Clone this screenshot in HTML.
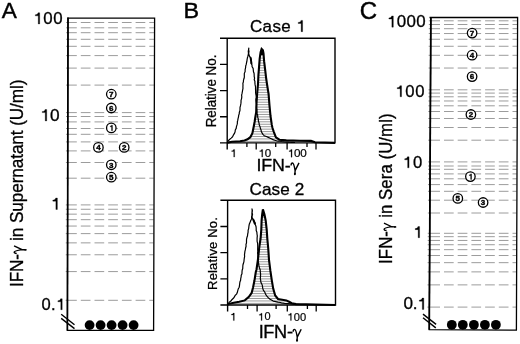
<!DOCTYPE html>
<html><head><meta charset="utf-8"><style>
html,body{margin:0;padding:0;background:#fff;width:520px;height:344px;overflow:hidden}
svg{display:block;will-change:transform;filter:blur(0.3px)}
text{font-family:"Liberation Sans", sans-serif;fill:#000;font-kerning:none}
</style></head><body>
<svg width="520" height="344" viewBox="0 0 520 344"><path d="M68.59 22.50H76.80M80.80 22.50H90.50M94.50 22.50H104.20M108.20 22.50H117.90M121.90 22.50H131.60M135.60 22.50H145.30M149.30 22.50H154.28M68.58 27.80H76.80M80.80 27.80H90.50M94.50 27.80H104.20M108.20 27.80H117.90M121.90 27.80H131.60M135.60 27.80H145.30M149.30 27.80H154.27M68.57 32.70H76.80M80.80 32.70H90.50M94.50 32.70H104.20M108.20 32.70H117.90M121.90 32.70H131.60M135.60 32.70H145.30M149.30 32.70H154.25M68.56 39.30H76.80M80.80 39.30H90.50M94.50 39.30H104.20M108.20 39.30H117.90M121.90 39.30H131.60M135.60 39.30H145.30M149.30 39.30H154.23M68.54 46.30H76.80M80.80 46.30H90.50M94.50 46.30H104.20M108.20 46.30H117.90M121.90 46.30H131.60M135.60 46.30H145.30M149.30 46.30H154.21M68.53 55.60H76.80M80.80 55.60H90.50M94.50 55.60H104.20M108.20 55.60H117.90M121.90 55.60H131.60M135.60 55.60H145.30M149.30 55.60H154.18M68.50 68.10H76.80M80.80 68.10H90.50M94.50 68.10H104.20M108.20 68.10H117.90M121.90 68.10H131.60M135.60 68.10H145.30M149.30 68.10H154.14M68.47 85.10H76.80M80.80 85.10H90.50M94.50 85.10H104.20M108.20 85.10H117.90M121.90 85.10H131.60M135.60 85.10H145.30M149.30 85.10H154.08M68.42 112.60H76.80M80.80 112.60H90.50M94.50 112.60H104.20M108.20 112.60H117.90M121.90 112.60H131.60M135.60 112.60H145.30M149.30 112.60H154.00M68.41 116.50H76.80M80.80 116.50H90.50M94.50 116.50H104.20M108.20 116.50H117.90M121.90 116.50H131.60M135.60 116.50H145.30M149.30 116.50H153.98M68.40 121.90H76.80M80.80 121.90H90.50M94.50 121.90H104.20M108.20 121.90H117.90M121.90 121.90H131.60M135.60 121.90H145.30M149.30 121.90H153.97M68.39 128.50H76.80M80.80 128.50H90.50M94.50 128.50H104.20M108.20 128.50H117.90M121.90 128.50H131.60M135.60 128.50H145.30M149.30 128.50H153.95M68.38 134.30H76.80M80.80 134.30H90.50M94.50 134.30H104.20M108.20 134.30H117.90M121.90 134.30H131.60M135.60 134.30H145.30M149.30 134.30H153.93M68.36 141.90H76.80M80.80 141.90H90.50M94.50 141.90H104.20M108.20 141.90H117.90M121.90 141.90H131.60M135.60 141.90H145.30M149.30 141.90H153.90M68.34 150.90H76.80M80.80 150.90H90.50M94.50 150.90H104.20M108.20 150.90H117.90M121.90 150.90H131.60M135.60 150.90H145.30M149.30 150.90H153.87M68.32 162.50H76.80M80.80 162.50H90.50M94.50 162.50H104.20M108.20 162.50H117.90M121.90 162.50H131.60M135.60 162.50H145.30M149.30 162.50H153.84M68.29 178.20H76.80M80.80 178.20H90.50M94.50 178.20H104.20M108.20 178.20H117.90M121.90 178.20H131.60M135.60 178.20H145.30M149.30 178.20H153.79M68.24 204.90H76.80M80.80 204.90H90.50M94.50 204.90H104.20M108.20 204.90H117.90M121.90 204.90H131.60M135.60 204.90H145.30M149.30 204.90H153.70M68.23 209.27H76.80M80.80 209.27H90.50M94.50 209.27H104.20M108.20 209.27H117.90M121.90 209.27H131.60M135.60 209.27H145.30M149.30 209.27H153.69M68.22 214.15H76.80M80.80 214.15H90.50M94.50 214.15H104.20M108.20 214.15H117.90M121.90 214.15H131.60M135.60 214.15H145.30M149.30 214.15H153.67M68.21 219.68H76.80M80.80 219.68H90.50M94.50 219.68H104.20M108.20 219.68H117.90M121.90 219.68H131.60M135.60 219.68H145.30M149.30 219.68H153.65M68.20 226.06H76.80M80.80 226.06H90.50M94.50 226.06H104.20M108.20 226.06H117.90M121.90 226.06H131.60M135.60 226.06H145.30M149.30 226.06H153.63M68.19 233.62H76.80M80.80 233.62H90.50M94.50 233.62H104.20M108.20 233.62H117.90M121.90 233.62H131.60M135.60 233.62H145.30M149.30 233.62H153.61M68.17 242.86H76.80M80.80 242.86H90.50M94.50 242.86H104.20M108.20 242.86H117.90M121.90 242.86H131.60M135.60 242.86H145.30M149.30 242.86H153.58M68.15 254.78H76.80M80.80 254.78H90.50M94.50 254.78H104.20M108.20 254.78H117.90M121.90 254.78H131.60M135.60 254.78H145.30M149.30 254.78H153.54M68.11 271.58H76.80M80.80 271.58H90.50M94.50 271.58H104.20M108.20 271.58H117.90M121.90 271.58H131.60M135.60 271.58H145.30M149.30 271.58H153.49M68.06 300.30H76.80M80.80 300.30H90.50M94.50 300.30H104.20M108.20 300.30H117.90M121.90 300.30H131.60M135.60 300.30H145.30M149.30 300.30H153.40" stroke="#9c9c9c" stroke-width="1" fill="none"/><path d="M66.19 22.50H68.99M66.18 27.80H68.98M66.17 32.70H68.97M66.16 39.30H68.96M66.14 46.30H68.94M66.13 55.60H68.93M66.10 68.10H68.90M66.07 85.10H68.87M66.02 112.60H68.82M66.01 116.50H68.81M66.00 121.90H68.80M65.99 128.50H68.79M65.98 134.30H68.78M65.96 141.90H68.76M65.94 150.90H68.74M65.92 162.50H68.72M65.89 178.20H68.69M65.84 204.90H68.64M65.83 209.27H68.63M65.82 214.15H68.62M65.81 219.68H68.61M65.80 226.06H68.60M65.79 233.62H68.59M65.77 242.86H68.57M65.75 254.78H68.55M65.71 271.58H68.51M65.66 300.30H68.46" stroke="#777" stroke-width="0.8" fill="none"/><path d="M68 17.6L67.4 330.4H153.6L154.6 18.2H67.2" stroke="#000" stroke-width="1.3" fill="none" stroke-linejoin="miter"/><path d="M68.0 17.6L67.4 330.4" stroke="#000" stroke-width="1.6" fill="none"/><path d="M61.2 314.3L74.5 324.7M61.2 318.4L74.5 328.6" stroke="#000" stroke-width="1.4" fill="none"/><circle cx="89.6" cy="325.1" r="4.9" fill="#000"/><circle cx="100.6" cy="325.1" r="4.9" fill="#000"/><circle cx="111.6" cy="325.1" r="4.9" fill="#000"/><circle cx="122.6" cy="325.1" r="4.9" fill="#000"/><circle cx="133.6" cy="325.1" r="4.9" fill="#000"/><circle cx="111.3" cy="94.2" r="4.75" fill="#fff" stroke="#000" stroke-width="1.3"/><text x="111.3" y="97.00" font-size="8.0" font-weight="bold" stroke="#000" stroke-width="0.4" text-anchor="middle">7</text><circle cx="111.3" cy="108" r="4.75" fill="#fff" stroke="#000" stroke-width="1.3"/><text x="111.3" y="110.80" font-size="8.0" font-weight="bold" stroke="#000" stroke-width="0.4" text-anchor="middle">6</text><circle cx="111.3" cy="127.9" r="4.75" fill="#fff" stroke="#000" stroke-width="1.3"/><path d="M112.34 130.70H111.66V126.70H110.26V126.18C110.98 126.16 111.48 125.86 111.56 125.20H112.34Z" stroke="#000" stroke-width="0.5"/><circle cx="98.4" cy="147.4" r="4.75" fill="#fff" stroke="#000" stroke-width="1.3"/><text x="98.4" y="150.20" font-size="8.0" font-weight="bold" stroke="#000" stroke-width="0.4" text-anchor="middle">4</text><circle cx="124.2" cy="147.4" r="4.75" fill="#fff" stroke="#000" stroke-width="1.3"/><text x="124.2" y="150.20" font-size="8.0" font-weight="bold" stroke="#000" stroke-width="0.4" text-anchor="middle">2</text><circle cx="111.3" cy="164.8" r="4.75" fill="#fff" stroke="#000" stroke-width="1.3"/><text x="111.3" y="167.60" font-size="8.0" font-weight="bold" stroke="#000" stroke-width="0.4" text-anchor="middle">3</text><circle cx="111.3" cy="177.2" r="4.75" fill="#fff" stroke="#000" stroke-width="1.3"/><text x="111.3" y="180.00" font-size="8.0" font-weight="bold" stroke="#000" stroke-width="0.4" text-anchor="middle">5</text><g transform="translate(22.60 285.50) scale(1.04 1) rotate(-90)"><text x="-1.55" y="0.00" font-size="17.19" letter-spacing="-0.094" stroke="#000" stroke-width="0.32">IFN-  in Supernatant (U/ml)</text><path d="M32.01 -5.67C32.01 -7.39 32.70 -8.08 33.39 -8.08C34.42 -8.08 34.93 -6.19 35.88 -0.52M39.63 -8.22L35.88 -0.52L35.71 2.75" fill="none" stroke="#000" stroke-width="1.34" stroke-linejoin="round"/><ellipse cx="35.65" cy="2.84" rx="0.95" ry="1.20"/></g><g transform="matrix(1.04 0 0 1 -1.412 0)"><text x="33.53" y="23.94" font-size="16.20" letter-spacing="0.492" stroke="#000" stroke-width="0.30"> 00</text><path d="M39.53 23.94H38.15V15.84H35.30V14.79C36.77 14.74 37.78 14.14 37.94 12.79H39.53Z" stroke="#000" stroke-width="0.30"/></g><g transform="matrix(1.04 0 0 1 -1.688 0)"><text x="40.39" y="120.93" font-size="16.62" letter-spacing="0.163" stroke="#000" stroke-width="0.31"> 0</text><path d="M46.54 120.93H45.13V112.62H42.20V111.54C43.71 111.49 44.74 110.88 44.91 109.50H46.54Z" stroke="#000" stroke-width="0.31"/></g><g transform="matrix(1.04 0 0 1 0 0)"><text x="48.98" y="209.50" font-size="16.72" letter-spacing="0.000" stroke="#000" stroke-width="0.31"> </text><path d="M55.16 209.50H53.74V201.14H50.80V200.06C52.32 200.01 53.36 199.39 53.52 198.00H55.16Z" stroke="#000" stroke-width="0.31"/></g><g transform="matrix(1.04 0 0 1 -1.688 0)"><text x="41.56" y="309.74" font-size="15.92" letter-spacing="0.353" stroke="#000" stroke-width="0.30">0. </text><path d="M61.43 309.74H60.08V301.78H57.28V300.75C58.73 300.70 59.71 300.11 59.87 298.79H61.43Z" stroke="#000" stroke-width="0.30"/></g><g transform="matrix(1.04 0 0 1 0 0)"><text x="1.76" y="17.60" font-size="21.74" letter-spacing="0.000" stroke="#000" stroke-width="0.41">A</text></g><path d="M431.43 20.81H440.00M444.00 20.81H453.70M457.70 20.81H467.40M471.40 20.81H481.10M485.10 20.81H494.80M498.80 20.81H508.50M512.50 20.81H517.29M431.41 24.51H440.00M444.00 24.51H453.70M457.70 24.51H467.40M471.40 24.51H481.10M485.10 24.51H494.80M498.80 24.51H508.50M512.50 24.51H517.27M431.39 28.70H440.00M444.00 28.70H453.70M457.70 28.70H467.40M471.40 28.70H481.10M485.10 28.70H494.80M498.80 28.70H508.50M512.50 28.70H517.26M431.37 33.54H440.00M444.00 33.54H453.70M457.70 33.54H467.40M471.40 33.54H481.10M485.10 33.54H494.80M498.80 33.54H508.50M512.50 33.54H517.24M431.34 39.26H440.00M444.00 39.26H453.70M457.70 39.26H467.40M471.40 39.26H481.10M485.10 39.26H494.80M498.80 39.26H508.50M512.50 39.26H517.22M431.30 46.27H440.00M444.00 46.27H453.70M457.70 46.27H467.40M471.40 46.27H481.10M485.10 46.27H494.80M498.80 46.27H508.50M512.50 46.27H517.19M431.26 55.30H440.00M444.00 55.30H453.70M457.70 55.30H467.40M471.40 55.30H481.10M485.10 55.30H494.80M498.80 55.30H508.50M512.50 55.30H517.15M431.19 68.04H440.00M444.00 68.04H453.70M457.70 68.04H467.40M471.40 68.04H481.10M485.10 68.04H494.80M498.80 68.04H508.50M512.50 68.04H517.11M431.08 89.80H440.00M444.00 89.80H453.70M457.70 89.80H467.40M471.40 89.80H481.10M485.10 89.80H494.80M498.80 89.80H508.50M512.50 89.80H517.02M431.06 93.10H440.00M444.00 93.10H453.70M457.70 93.10H467.40M471.40 93.10H481.10M485.10 93.10H494.80M498.80 93.10H508.50M512.50 93.10H517.01M431.04 96.79H440.00M444.00 96.79H453.70M457.70 96.79H467.40M471.40 96.79H481.10M485.10 96.79H494.80M498.80 96.79H508.50M512.50 96.79H516.99M431.02 100.97H440.00M444.00 100.97H453.70M457.70 100.97H467.40M471.40 100.97H481.10M485.10 100.97H494.80M498.80 100.97H508.50M512.50 100.97H516.98M431.00 105.80H440.00M444.00 105.80H453.70M457.70 105.80H467.40M471.40 105.80H481.10M485.10 105.80H494.80M498.80 105.80H508.50M512.50 105.80H516.96M430.97 111.50H440.00M444.00 111.50H453.70M457.70 111.50H467.40M471.40 111.50H481.10M485.10 111.50H494.80M498.80 111.50H508.50M512.50 111.50H516.94M430.93 118.49H440.00M444.00 118.49H453.70M457.70 118.49H467.40M471.40 118.49H481.10M485.10 118.49H494.80M498.80 118.49H508.50M512.50 118.49H516.91M430.89 127.50H440.00M444.00 127.50H453.70M457.70 127.50H467.40M471.40 127.50H481.10M485.10 127.50H494.80M498.80 127.50H508.50M512.50 127.50H516.88M430.82 140.20H440.00M444.00 140.20H453.70M457.70 140.20H467.40M471.40 140.20H481.10M485.10 140.20H494.80M498.80 140.20H508.50M512.50 140.20H516.83M430.71 161.90H440.00M444.00 161.90H453.70M457.70 161.90H467.40M471.40 161.90H481.10M485.10 161.90H494.80M498.80 161.90H508.50M512.50 161.90H516.75M430.69 166.00H440.00M444.00 166.00H453.70M457.70 166.00H467.40M471.40 166.00H481.10M485.10 166.00H494.80M498.80 166.00H508.50M512.50 166.00H516.73M430.67 169.30H440.00M444.00 169.30H453.70M457.70 169.30H467.40M471.40 169.30H481.10M485.10 169.30H494.80M498.80 169.30H508.50M512.50 169.30H516.72M430.65 173.90H440.00M444.00 173.90H453.70M457.70 173.90H467.40M471.40 173.90H481.10M485.10 173.90H494.80M498.80 173.90H508.50M512.50 173.90H516.70M430.62 178.80H440.00M444.00 178.80H453.70M457.70 178.80H467.40M471.40 178.80H481.10M485.10 178.80H494.80M498.80 178.80H508.50M512.50 178.80H516.68M430.59 184.60H440.00M444.00 184.60H453.70M457.70 184.60H467.40M471.40 184.60H481.10M485.10 184.60H494.80M498.80 184.60H508.50M512.50 184.60H516.66M430.56 191.30H440.00M444.00 191.30H453.70M457.70 191.30H467.40M471.40 191.30H481.10M485.10 191.30H494.80M498.80 191.30H508.50M512.50 191.30H516.63M430.51 200.20H440.00M444.00 200.20H453.70M457.70 200.20H467.40M471.40 200.20H481.10M485.10 200.20H494.80M498.80 200.20H508.50M512.50 200.20H516.60M430.45 213.00H440.00M444.00 213.00H453.70M457.70 213.00H467.40M471.40 213.00H481.10M485.10 213.00H494.80M498.80 213.00H508.50M512.50 213.00H516.55M430.35 233.30H440.00M444.00 233.30H453.70M457.70 233.30H467.40M471.40 233.30H481.10M485.10 233.30H494.80M498.80 233.30H508.50M512.50 233.30H516.47M430.33 236.68H440.00M444.00 236.68H453.70M457.70 236.68H467.40M471.40 236.68H481.10M485.10 236.68H494.80M498.80 236.68H508.50M512.50 236.68H516.46M430.31 240.45H440.00M444.00 240.45H453.70M457.70 240.45H467.40M471.40 240.45H481.10M485.10 240.45H494.80M498.80 240.45H508.50M512.50 240.45H516.44M430.30 244.73H440.00M444.00 244.73H453.70M457.70 244.73H467.40M471.40 244.73H481.10M485.10 244.73H494.80M498.80 244.73H508.50M512.50 244.73H516.43M430.30 249.67H440.00M444.00 249.67H453.70M457.70 249.67H467.40M471.40 249.67H481.10M485.10 249.67H494.80M498.80 249.67H508.50M512.50 249.67H516.41M430.30 255.52H440.00M444.00 255.52H453.70M457.70 255.52H467.40M471.40 255.52H481.10M485.10 255.52H494.80M498.80 255.52H508.50M512.50 255.52H516.39M430.30 262.67H440.00M444.00 262.67H453.70M457.70 262.67H467.40M471.40 262.67H481.10M485.10 262.67H494.80M498.80 262.67H508.50M512.50 262.67H516.36M430.30 271.89H440.00M444.00 271.89H453.70M457.70 271.89H467.40M471.40 271.89H481.10M485.10 271.89H494.80M498.80 271.89H508.50M512.50 271.89H516.32M430.30 284.88H440.00M444.00 284.88H453.70M457.70 284.88H467.40M471.40 284.88H481.10M485.10 284.88H494.80M498.80 284.88H508.50M512.50 284.88H516.27M430.30 307.10H440.00M444.00 307.10H453.70M457.70 307.10H467.40M471.40 307.10H481.10M485.10 307.10H494.80M498.80 307.10H508.50M512.50 307.10H516.19" stroke="#9c9c9c" stroke-width="1" fill="none"/><path d="M428.83 20.81H431.83M428.81 24.51H431.81M428.79 28.70H431.79M428.77 33.54H431.77M428.74 39.26H431.74M428.70 46.27H431.70M428.66 55.30H431.66M428.59 68.04H431.59M428.48 89.80H431.48M428.46 93.10H431.46M428.44 96.79H431.44M428.42 100.97H431.42M428.40 105.80H431.40M428.37 111.50H431.37M428.33 118.49H431.33M428.29 127.50H431.29M428.22 140.20H431.22M428.11 161.90H431.11M428.09 166.00H431.09M428.07 169.30H431.07M428.05 173.90H431.05M428.02 178.80H431.02M427.99 184.60H430.99M427.96 191.30H430.96M427.91 200.20H430.91M427.85 213.00H430.85M427.75 233.30H430.75M427.73 236.68H430.73M427.71 240.45H430.71M427.69 244.73H430.69M427.66 249.67H430.66M427.63 255.52H430.63M427.60 262.67H430.60M427.55 271.89H430.55M427.48 284.88H430.48M427.37 307.10H430.37" stroke="#777" stroke-width="0.8" fill="none"/><path d="M430.85 17.2L429.25 329.7L516.4 330.2L517.6 17.5H429.5" stroke="#000" stroke-width="1.3" fill="none"/><path d="M430.85 17.2L429.25 329.7" stroke="#000" stroke-width="1.7" fill="none"/><path d="M423.0 314.1L436.1 324.4M423.0 317.8L435.8 327.9" stroke="#000" stroke-width="1.4" fill="none"/><circle cx="451.8" cy="324.8" r="4.9" fill="#000"/><circle cx="462.8" cy="324.8" r="4.9" fill="#000"/><circle cx="473.9" cy="324.8" r="4.9" fill="#000"/><circle cx="484.9" cy="324.8" r="4.9" fill="#000"/><circle cx="495.9" cy="324.8" r="4.9" fill="#000"/><circle cx="472.1" cy="33.1" r="4.75" fill="#fff" stroke="#000" stroke-width="1.3"/><text x="472.1" y="35.90" font-size="8.0" font-weight="bold" stroke="#000" stroke-width="0.4" text-anchor="middle">7</text><circle cx="472.1" cy="55.2" r="4.75" fill="#fff" stroke="#000" stroke-width="1.3"/><text x="472.1" y="58.00" font-size="8.0" font-weight="bold" stroke="#000" stroke-width="0.4" text-anchor="middle">4</text><circle cx="472.1" cy="76.6" r="4.75" fill="#fff" stroke="#000" stroke-width="1.3"/><text x="472.1" y="79.40" font-size="8.0" font-weight="bold" stroke="#000" stroke-width="0.4" text-anchor="middle">6</text><circle cx="470.9" cy="114.5" r="4.75" fill="#fff" stroke="#000" stroke-width="1.3"/><text x="470.9" y="117.30" font-size="8.0" font-weight="bold" stroke="#000" stroke-width="0.4" text-anchor="middle">2</text><circle cx="470.4" cy="176.6" r="4.75" fill="#fff" stroke="#000" stroke-width="1.3"/><path d="M471.44 179.40H470.76V175.40H469.36V174.88C470.08 174.86 470.58 174.56 470.66 173.90H471.44Z" stroke="#000" stroke-width="0.5"/><circle cx="457.8" cy="198.4" r="4.75" fill="#fff" stroke="#000" stroke-width="1.3"/><text x="457.8" y="201.20" font-size="8.0" font-weight="bold" stroke="#000" stroke-width="0.4" text-anchor="middle">5</text><circle cx="483.1" cy="202.5" r="4.75" fill="#fff" stroke="#000" stroke-width="1.3"/><text x="483.1" y="205.30" font-size="8.0" font-weight="bold" stroke="#000" stroke-width="0.4" text-anchor="middle">3</text><g transform="translate(392.30 262.40) scale(1.04 1) rotate(-90)"><text x="-1.51" y="0.00" font-size="16.77" letter-spacing="0.078" stroke="#000" stroke-width="0.31">IFN-  in Sera (U/ml)</text><path d="M31.91 -5.53C31.91 -7.21 32.58 -7.88 33.25 -7.88C34.25 -7.88 34.76 -6.04 35.68 -0.50M39.34 -8.02L35.68 -0.50L35.51 2.68" fill="none" stroke="#000" stroke-width="1.31" stroke-linejoin="round"/><ellipse cx="35.46" cy="2.77" rx="0.92" ry="1.17"/></g><g transform="matrix(1.04 0 0 1 -15.556 0)"><text x="387.13" y="27.14" font-size="16.27" letter-spacing="0.290" stroke="#000" stroke-width="0.31"> 000</text><path d="M393.15 27.14H391.76V19.00H388.90V17.95C390.38 17.90 391.39 17.30 391.55 15.95H393.15Z" stroke="#000" stroke-width="0.31"/></g><g transform="matrix(1.04 0 0 1 -15.888 0)"><text x="395.45" y="96.74" font-size="16.06" letter-spacing="0.599" stroke="#000" stroke-width="0.30"> 00</text><path d="M401.39 96.74H400.03V88.71H397.20V87.67C398.66 87.62 399.66 87.03 399.82 85.69H401.39Z" stroke="#000" stroke-width="0.30"/></g><g transform="matrix(1.04 0 0 1 -16.188 0)"><text x="402.95" y="167.84" font-size="16.06" letter-spacing="0.705" stroke="#000" stroke-width="0.30"> 0</text><path d="M408.89 167.84H407.53V159.81H404.70V158.77C406.16 158.72 407.16 158.13 407.32 156.79H408.89Z" stroke="#000" stroke-width="0.30"/></g><g transform="matrix(1.04 0 0 1 0 0)"><text x="397.48" y="237.70" font-size="16.13" letter-spacing="0.000" stroke="#000" stroke-width="0.30"> </text><path d="M403.45 237.70H402.08V229.63H399.24V228.58C400.71 228.54 401.71 227.94 401.87 226.60H403.45Z" stroke="#000" stroke-width="0.30"/></g><g transform="matrix(1.04 0 0 1 -16.164 0)"><text x="403.44" y="309.44" font-size="16.48" letter-spacing="-0.119" stroke="#000" stroke-width="0.31">0. </text><path d="M423.04 309.44H421.64V301.20H418.74V300.12C420.24 300.08 421.26 299.47 421.43 298.10H423.04Z" stroke="#000" stroke-width="0.31"/></g><g transform="matrix(1.04 0 0 1 0 0)"><text x="345.90" y="19.27" font-size="23.10" letter-spacing="0.000" stroke="#000" stroke-width="0.43">C</text></g><g transform="matrix(1.04 0 0 1 0 0)"><text x="176.47" y="17.90" font-size="22.46" letter-spacing="0.000" stroke="#000" stroke-width="0.42">B</text></g><clipPath id="clip38"><polygon points="227.50,142.60 232.00,141.80 240.00,141.20 244.50,140.50 247.50,139.30 250.30,137.20 252.40,133.20 253.80,126.30 254.60,122.00 255.20,118.00 256.20,112.10 256.50,103.20 257.10,94.20 258.00,84.00 258.40,75.30 259.00,67.60 259.70,58.60 260.60,52.20 261.60,49.00 262.90,50.30 263.50,53.50 264.10,61.20 265.20,70.10 266.10,77.80 267.00,84.20 268.60,94.20 269.50,105.70 270.50,116.00 271.80,124.90 272.50,128.00 273.80,131.80 275.90,137.40 279.40,139.70 286.30,140.40 300.00,140.70 311.00,140.90 315.00,142.30 335.00,142.90"/></clipPath><path d="M227.2 38.50H335.0M227.2 40.95H335.0M227.2 43.40H335.0M227.2 45.85H335.0M227.2 48.30H335.0M227.2 50.75H335.0M227.2 53.20H335.0M227.2 55.65H335.0M227.2 58.10H335.0M227.2 60.55H335.0M227.2 63.00H335.0M227.2 65.45H335.0M227.2 67.90H335.0M227.2 70.35H335.0M227.2 72.80H335.0M227.2 75.25H335.0M227.2 77.70H335.0M227.2 80.15H335.0M227.2 82.60H335.0M227.2 85.05H335.0M227.2 87.50H335.0M227.2 89.95H335.0M227.2 92.40H335.0M227.2 94.85H335.0M227.2 97.30H335.0M227.2 99.75H335.0M227.2 102.20H335.0M227.2 104.65H335.0M227.2 107.10H335.0M227.2 109.55H335.0M227.2 112.00H335.0M227.2 114.45H335.0M227.2 116.90H335.0M227.2 119.35H335.0M227.2 121.80H335.0M227.2 124.25H335.0M227.2 126.70H335.0M227.2 129.15H335.0M227.2 131.60H335.0M227.2 134.05H335.0M227.2 136.50H335.0M227.2 138.95H335.0M227.2 141.40H335.0M227.2 143.85H335.0M227.2 146.30H335.0M227.2 148.75H335.0M227.2 151.20H335.0M227.2 153.65H335.0M227.2 156.10H335.0M227.2 158.55H335.0" stroke="#9a9a9a" stroke-width="1" clip-path="url(#clip38)"/><rect x="227.2" y="48.00" width="107.80000000000001" height="7.00" fill="#000" clip-path="url(#clip38)"/><polyline points="227.50,141.60 229.50,139.50 231.15,138.10 232.60,136.70 233.38,135.07 234.42,133.43 235.10,131.80 235.27,130.08 236.19,128.35 236.44,126.62 237.00,124.90 237.38,123.32 237.37,121.74 237.79,120.16 238.04,118.58 238.50,117.00 238.67,115.39 239.23,113.77 239.34,112.16 239.97,110.54 239.99,108.93 240.02,107.31 240.50,105.70 240.84,103.92 241.04,102.14 241.03,100.36 241.56,98.58 241.80,96.80 241.63,95.11 242.05,93.43 242.34,91.74 242.62,90.06 242.98,88.37 242.91,86.69 243.00,85.00 242.88,83.38 243.42,81.77 243.48,80.15 244.04,78.53 244.36,76.92 244.30,75.30 244.34,73.38 245.14,71.45 245.13,69.52 245.60,67.60 245.70,66.00 246.22,64.40 246.52,62.80 246.90,61.20 247.08,59.60 247.38,58.00 247.83,56.40 248.20,54.80 248.48,53.12 248.26,51.45 248.56,49.77 248.80,48.10 248.64,49.77 249.01,51.45 248.70,53.12 248.90,54.80 249.40,56.10 250.70,58.00 251.30,59.90 251.37,61.50 251.10,63.10 252.00,65.00 252.10,66.70 253.12,68.40 253.30,70.10 253.47,71.70 254.05,73.30 254.18,74.90 254.20,76.50 254.61,78.10 254.22,79.70 254.90,81.30 254.90,82.90 255.12,84.93 255.57,86.97 255.50,89.00 255.65,90.73 255.59,92.47 255.80,94.20 256.18,95.84 256.35,97.49 255.90,99.13 255.95,100.77 256.26,102.41 256.51,104.06 256.50,105.70 256.41,107.62 256.86,109.55 256.98,111.48 257.10,113.40 257.71,115.27 257.65,117.13 258.30,119.00 258.38,120.97 258.98,122.93 259.30,124.90 260.00,126.62 260.41,128.35 261.05,130.08 261.40,131.80 262.17,133.10 262.94,134.40 264.20,135.70 266.38,136.55 268.30,137.40 270.15,138.20 271.80,139.00 273.07,139.60 274.71,140.20 276.60,140.80 278.42,141.04 280.08,141.28 281.44,141.52 283.15,141.76 285.00,142.00 286.61,142.08 288.00,142.17 289.86,142.25 291.48,142.33 293.01,142.42 295.00,142.50" fill="none" stroke="#000" stroke-width="1.2" stroke-linejoin="round"/><path d="M250.6 57.8L251.5 63.5" stroke="#000" stroke-width="1.9" stroke-linecap="round"/><polyline points="227.50,142.60 232.00,141.80 240.00,141.20 244.50,140.50 247.50,139.30 250.30,137.20 252.40,133.20 253.80,126.30 254.60,122.00 255.20,118.00 256.20,112.10 256.50,103.20 257.10,94.20 258.00,84.00 258.40,75.30 259.00,67.60 259.70,58.60 260.60,52.20 261.60,49.00 262.90,50.30 263.50,53.50 264.10,61.20 265.20,70.10 266.10,77.80 267.00,84.20 268.60,94.20 269.50,105.70 270.50,116.00 271.80,124.90 272.50,128.00 273.80,131.80 275.90,137.40 279.40,139.70 286.30,140.40 300.00,140.70 311.00,140.90 315.00,142.30 335.00,142.90" fill="none" stroke="#000" stroke-width="2.1" stroke-linejoin="miter" stroke-miterlimit="2"/><path d="M220.00 38.30H335.00V142.90H220.00M227.20 38.30V149.40" stroke="#000" stroke-width="1.4" fill="none"/><path d="M220.00 64.45H227.20M220.00 90.60H227.20M220.00 116.75H227.20M256.20 142.90V149.40M287.10 142.90V149.40M316.00 142.90V149.40M246.90 142.90V146.90M275.70 142.90V146.90M307.00 142.90V146.90" stroke="#000" stroke-width="1.3" fill="none"/><g transform="matrix(1.04 0 0 1 0 0)"><text x="221.50" y="157.10" font-size="11.19" letter-spacing="0.000" stroke="#000" stroke-width="0.21"> </text><path d="M225.64 157.10H224.69V151.50H222.72V150.78C223.74 150.74 224.43 150.33 224.55 149.40H225.64Z" stroke="#000" stroke-width="0.21"/></g><g transform="matrix(1.04 0 0 1 -10.388 0)"><text x="258.49" y="157.09" font-size="11.13" letter-spacing="-0.033" stroke="#000" stroke-width="0.21"> 0</text><path d="M262.60 157.09H261.66V151.53H259.70V150.80C260.71 150.77 261.40 150.36 261.51 149.43H262.60Z" stroke="#000" stroke-width="0.21"/></g><g transform="matrix(1.04 0 0 1 -11.560 0)"><text x="287.77" y="157.19" font-size="11.27" letter-spacing="-0.285" stroke="#000" stroke-width="0.21"> 00</text><path d="M291.94 157.19H290.98V151.55H289.00V150.82C290.03 150.79 290.72 150.37 290.84 149.44H291.94Z" stroke="#000" stroke-width="0.21"/></g><g transform="matrix(1.04 0 0 1 -10.328 0)"><text x="256.66" y="171.10" font-size="17.15" letter-spacing="-0.169" stroke="#000" stroke-width="0.32">IFN- </text><path d="M289.83 165.44C289.83 163.72 290.52 163.04 291.20 163.04C292.23 163.04 292.75 164.93 293.69 170.59M297.43 162.90L293.69 170.59L293.52 173.84" fill="none" stroke="#000" stroke-width="1.34" stroke-linejoin="round"/><ellipse cx="293.47" cy="173.93" rx="0.94" ry="1.20"/></g><g transform="matrix(1.04 0 0 1 -10.032 0)"><text x="249.98" y="31.64" font-size="16.34" letter-spacing="0.380" stroke="#000" stroke-width="0.31">Case  </text><path d="M300.61 31.64H299.22V23.47H296.34V22.41C297.83 22.36 298.84 21.75 299.01 20.40H300.61Z" stroke="#000" stroke-width="0.31"/></g><g transform="translate(216.10 126.30) scale(1.04 1) rotate(-90)"><text x="-1.07" y="0.00" font-size="13.42" letter-spacing="-0.033" stroke="#000" stroke-width="0.25">Relative No.</text></g><clipPath id="clip200"><polygon points="227.70,305.00 228.20,304.10 233.70,302.70 239.20,301.80 244.80,300.40 248.90,296.90 251.70,292.80 253.10,287.20 254.50,280.30 255.80,272.00 256.50,269.50 257.90,259.80 259.30,247.00 260.60,238.50 261.30,229.60 261.60,220.60 262.20,214.20 262.90,209.40 264.40,214.20 265.70,220.60 266.70,229.60 267.30,238.50 268.20,248.00 269.00,259.80 270.40,270.90 271.80,280.30 273.20,288.60 275.20,295.50 278.00,299.00 282.20,299.70 286.30,300.40 289.10,301.80 291.80,303.20 296.00,304.10 335.50,305.00"/></clipPath><path d="M227.6 200.50H335.5M227.6 202.95H335.5M227.6 205.40H335.5M227.6 207.85H335.5M227.6 210.30H335.5M227.6 212.75H335.5M227.6 215.20H335.5M227.6 217.65H335.5M227.6 220.10H335.5M227.6 222.55H335.5M227.6 225.00H335.5M227.6 227.45H335.5M227.6 229.90H335.5M227.6 232.35H335.5M227.6 234.80H335.5M227.6 237.25H335.5M227.6 239.70H335.5M227.6 242.15H335.5M227.6 244.60H335.5M227.6 247.05H335.5M227.6 249.50H335.5M227.6 251.95H335.5M227.6 254.40H335.5M227.6 256.85H335.5M227.6 259.30H335.5M227.6 261.75H335.5M227.6 264.20H335.5M227.6 266.65H335.5M227.6 269.10H335.5M227.6 271.55H335.5M227.6 274.00H335.5M227.6 276.45H335.5M227.6 278.90H335.5M227.6 281.35H335.5M227.6 283.80H335.5M227.6 286.25H335.5M227.6 288.70H335.5M227.6 291.15H335.5M227.6 293.60H335.5M227.6 296.05H335.5M227.6 298.50H335.5M227.6 300.95H335.5M227.6 303.40H335.5M227.6 305.85H335.5M227.6 308.30H335.5M227.6 310.75H335.5M227.6 313.20H335.5M227.6 315.65H335.5M227.6 318.10H335.5M227.6 320.55H335.5" stroke="#9a9a9a" stroke-width="1" clip-path="url(#clip200)"/><rect x="227.6" y="208.40" width="107.9" height="8.00" fill="#000" clip-path="url(#clip200)"/><polyline points="227.70,304.60 228.20,303.60 229.23,302.35 230.90,301.10 231.86,299.70 233.38,298.30 234.40,296.90 235.08,295.53 236.52,294.17 237.20,292.80 237.70,290.93 238.19,289.07 239.20,287.20 239.51,285.48 239.67,283.75 239.91,282.02 240.60,280.30 240.72,278.64 241.13,276.98 241.22,275.32 241.97,273.66 242.00,272.00 242.16,270.26 242.74,268.51 242.80,266.77 242.92,265.03 243.45,263.29 243.93,261.54 244.10,259.80 244.31,258.11 244.63,256.43 244.48,254.74 244.71,253.06 244.91,251.37 245.38,249.69 245.60,248.00 246.08,246.28 245.97,244.55 246.50,242.82 246.50,241.10 246.53,239.32 246.91,237.55 247.52,235.78 247.70,234.00 248.10,232.20 248.10,230.40 248.71,228.35 248.90,226.30 249.25,224.30 250.10,222.30 250.93,220.35 251.70,218.40 251.57,216.80 251.97,215.20 251.91,213.60 252.03,212.00 252.15,210.40 252.00,208.80 252.40,210.68 252.10,212.56 252.53,214.44 252.09,216.32 252.30,218.20 253.60,220.20 254.80,222.20 255.40,224.70 256.07,226.75 256.20,228.80 256.19,230.53 256.88,232.27 257.00,234.00 257.31,235.93 257.11,237.87 257.10,239.80 257.12,241.44 257.57,243.08 257.68,244.72 257.73,246.36 257.70,248.00 257.66,249.71 257.85,251.43 257.57,253.14 258.01,254.86 257.92,256.57 258.25,258.29 258.20,260.00 258.12,261.60 258.68,263.20 258.71,264.80 259.13,266.40 259.50,268.00 260.24,270.00 260.30,272.00 260.56,273.66 260.56,275.32 260.44,276.98 260.34,278.64 260.70,280.30 260.79,281.96 261.57,283.62 262.30,285.28 262.54,286.94 262.80,288.60 263.50,290.47 264.93,292.33 265.50,294.20 266.71,295.80 267.98,297.40 269.70,299.00 271.46,300.05 273.20,301.10 274.86,301.45 276.60,301.80 277.98,302.14 280.25,302.48 281.49,302.82 283.24,303.16 285.00,303.50 286.34,303.61 287.99,303.72 290.31,303.83 291.99,303.94 293.42,304.06 294.68,304.17 296.42,304.28 298.08,304.39 300.00,304.50" fill="none" stroke="#000" stroke-width="1.2" stroke-linejoin="round"/><path d="M253.4 219.8L254.8 223.6" stroke="#000" stroke-width="2.0" stroke-linecap="round"/><polyline points="227.70,305.00 228.20,304.10 233.70,302.70 239.20,301.80 244.80,300.40 248.90,296.90 251.70,292.80 253.10,287.20 254.50,280.30 255.80,272.00 256.50,269.50 257.90,259.80 259.30,247.00 260.60,238.50 261.30,229.60 261.60,220.60 262.20,214.20 262.90,209.40 264.40,214.20 265.70,220.60 266.70,229.60 267.30,238.50 268.20,248.00 269.00,259.80 270.40,270.90 271.80,280.30 273.20,288.60 275.20,295.50 278.00,299.00 282.20,299.70 286.30,300.40 289.10,301.80 291.80,303.20 296.00,304.10 335.50,305.00" fill="none" stroke="#000" stroke-width="2.1" stroke-linejoin="miter" stroke-miterlimit="2"/><path d="M220.40 200.30H335.50V305.00H220.40M227.60 200.30V311.50" stroke="#000" stroke-width="1.4" fill="none"/><path d="M220.40 226.48H227.60M220.40 252.65H227.60M220.40 278.82H227.60M257.10 305.00V311.50M287.30 305.00V311.50M316.20 305.00V311.50M247.50 305.00V309.00M276.10 305.00V309.00M307.40 305.00V309.00" stroke="#000" stroke-width="1.3" fill="none"/><g transform="matrix(1.04 0 0 1 0 0)"><text x="221.20" y="320.60" font-size="11.05" letter-spacing="0.000" stroke="#000" stroke-width="0.21"> </text><path d="M225.29 320.60H224.35V315.08H222.40V314.36C223.41 314.33 224.09 313.92 224.21 313.00H225.29Z" stroke="#000" stroke-width="0.21"/></g><g transform="matrix(1.04 0 0 1 -10.368 0)"><text x="258.05" y="320.49" font-size="10.56" letter-spacing="0.317" stroke="#000" stroke-width="0.20"> 0</text><path d="M261.96 320.49H261.06V315.21H259.20V314.53C260.16 314.49 260.82 314.10 260.92 313.23H261.96Z" stroke="#000" stroke-width="0.20"/></g><g transform="matrix(1.04 0 0 1 -11.540 0)"><text x="287.33" y="320.59" font-size="10.70" letter-spacing="0.191" stroke="#000" stroke-width="0.20"> 00</text><path d="M291.29 320.59H290.38V315.24H288.50V314.55C289.47 314.51 290.14 314.12 290.24 313.23H291.29Z" stroke="#000" stroke-width="0.20"/></g><g transform="matrix(1.04 0 0 1 -10.412 0)"><text x="258.73" y="337.60" font-size="17.44" letter-spacing="-0.314" stroke="#000" stroke-width="0.33">IFN- </text><path d="M291.90 331.84C291.90 330.10 292.60 329.40 293.30 329.40C294.34 329.40 294.87 331.32 295.82 337.08M299.63 329.26L295.82 337.08L295.65 340.39" fill="none" stroke="#000" stroke-width="1.36" stroke-linejoin="round"/><ellipse cx="295.60" cy="340.48" rx="0.96" ry="1.22"/></g><g transform="matrix(1.04 0 0 1 -10.012 0)"><text x="249.48" y="194.84" font-size="16.48" letter-spacing="0.122" stroke="#000" stroke-width="0.31">Case 2</text></g><g transform="translate(216.50 288.90) scale(1.04 1) rotate(-90)"><text x="-1.04" y="0.00" font-size="13.00" letter-spacing="0.186" stroke="#000" stroke-width="0.24">Relative No.</text></g></svg>
</body></html>
